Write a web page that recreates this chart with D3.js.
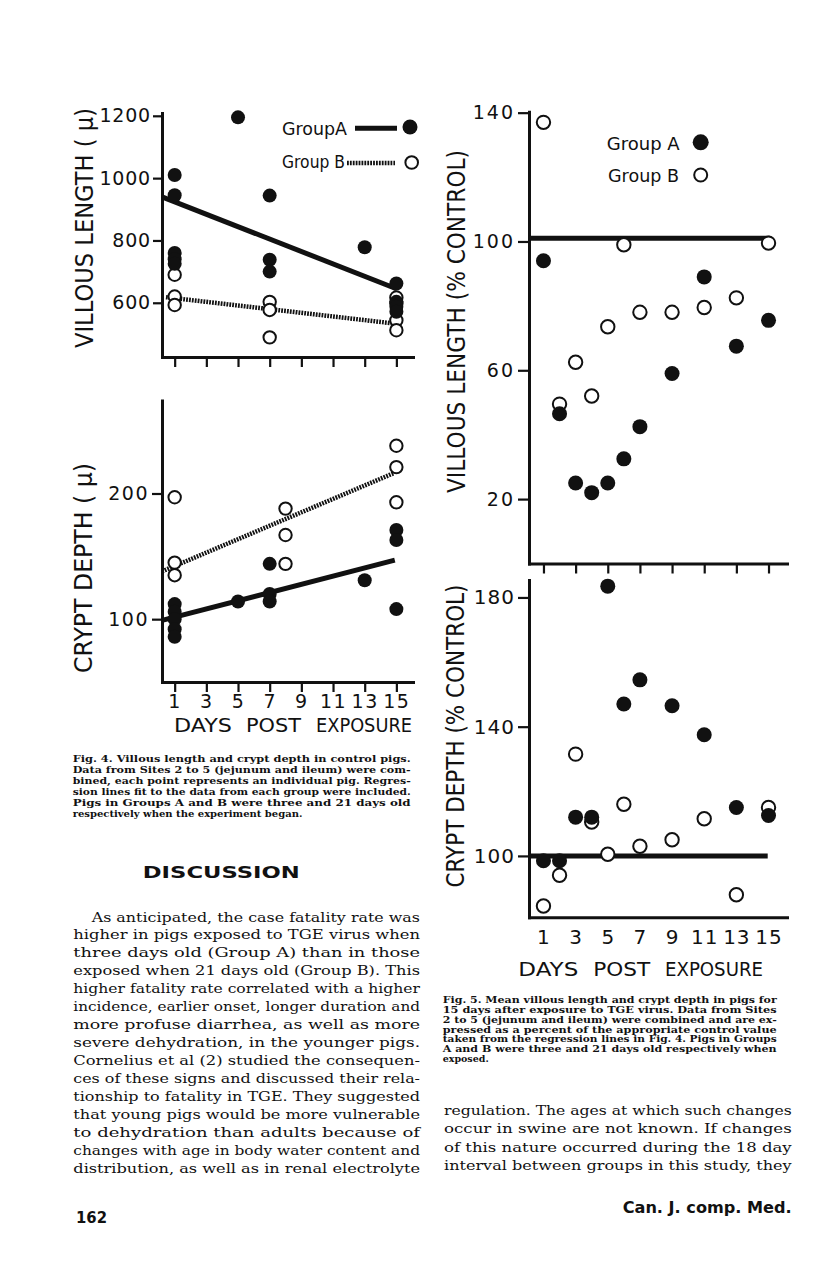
<!DOCTYPE html>
<html>
<head>
<meta charset="utf-8">
<script src="https://cdn.jsdelivr.net/npm/d3@7"></script>
<style>
  body { margin: 0; background: #fff; }
  svg text { fill: #111; }
</style>
</head>
<body>
<div id="page"></div>
<script>
// ---- data ----
var dayTicks = [1, 3, 5, 7, 9, 11, 13, 15];

// Fig 4, villous length (microns), one point per pig
var lenA_days = [1, 1, 1, 1, 1, 5, 7, 7, 7, 13, 15, 15, 15, 15];
var lenA_vals = [1010, 945, 760, 740, 725, 1195, 944, 738, 700, 778, 662, 603, 587, 571];
var lenB_days = [1, 1, 1, 7, 7, 7, 15, 15, 15, 15];
var lenB_vals = [690, 620, 593, 603, 577, 489, 617, 598, 544, 512];
var lenTicks = [600, 800, 1000, 1200];

// Fig 4, crypt depth (microns)
var depA_days = [1, 1, 1, 1, 1, 5, 7, 7, 7, 13, 15, 15, 15];
var depA_vals = [112, 106, 100, 92, 86, 114, 144, 120, 114, 131, 108, 171, 163];
var depB_days = [1, 1, 1, 8, 8, 8, 15, 15, 15];
var depB_vals = [197, 145, 135, 188, 167, 144, 238, 221, 193];
var depTicks = [100, 200];

// regression line end points [day, value]
var regLenA = [[0.2, 940], [15, 645]];
var regLenB = [[0.45, 618], [15.1, 532]];
var regDepA = [[0.2, 99], [14.9, 147]];
var regDepB = [[0.2, 138], [14.8, 216]];

// Fig 5, percent of control
var days5 = [1, 2, 3, 4, 5, 6, 7, 9, 11, 13, 15];
var vilA = [94, 46.5, 25, 22, 25, 32.5, 42.5, 59, 89, 67.5, 75.5];
var vilB = [137, 49.5, 62.5, 52, 73.5, 99, 78, 78, 79.5, 82.5, 99.5];
var crpA = [98.5, 98.5, 112, 112, 183.5, 147, 154.5, 146.5, 137.5, 115, 112.5];
var crpB = [84.5, 94, 131.5, 110.5, 100.5, 116, 103, 105, 111.5, 88, 115];
var vilTicks = [20, 60, 100, 140];
var crpTicks = [100, 140, 180];
var controlVil = [[0.1, 101], [15.1, 101]];
var controlCrp = [[0.1, 100], [14.95, 100]];

// ---- text ----
var cap4 = [
  "Fig. 4. Villous length and crypt depth in control pigs.",
  "Data from Sites 2 to 5 (jejunum and ileum) were com-",
  "bined, each point represents an individual pig. Regres-",
  "sion lines fit to the data from each group were included.",
  "Pigs in Groups A and B were three and 21 days old",
  "respectively when the experiment began."
];
var cap5 = [
  "Fig. 5. Mean villous length and crypt depth in pigs for",
  "15 days after exposure to TGE virus. Data from Sites",
  "2 to 5 (jejunum and ileum) were combined and are ex-",
  "pressed as a percent of the appropriate control value",
  "taken from the regression lines in Fig. 4. Pigs in Groups",
  "A and B were three and 21 days old respectively when",
  "exposed."
];
var bodyLeft = [
  "As anticipated, the case fatality rate was",
  "higher in pigs exposed to TGE virus when",
  "three days old (Group A) than in those",
  "exposed when 21 days old (Group B). This",
  "higher fatality rate correlated with a higher",
  "incidence, earlier onset, longer duration and",
  "more profuse diarrhea, as well as more",
  "severe dehydration, in the younger pigs.",
  "Cornelius et al (2) studied the consequen-",
  "ces of these signs and discussed their rela-",
  "tionship to fatality in TGE. They suggested",
  "that young pigs would be more vulnerable",
  "to dehydration than adults because of",
  "changes with age in body water content and",
  "distribution, as well as in renal electrolyte"
];
var bodyRight = [
  "regulation. The ages at which such changes",
  "occur in swine are not known. If changes",
  "of this nature occurred during the 18 day",
  "interval between groups in this study, they"
];
var xTitleWords = ["DAYS", "POST", "EXPOSURE"];

var SANS = "'DejaVu Sans', sans-serif",
    SERIF = "'DejaVu Serif', serif",
    INK = "#111",
    DOTS = "1.8,1.1";

var svg = d3.select('#page')
    .append('svg')
    .attr('width', 816)
    .attr('height', 1271);

svg.append('rect').attr('width', 816).attr('height', 1271).attr('fill', '#fff');

var line = d3.line();

function panel(cfg) {
    var x = cfg.x, y = cfg.y;
    var g = svg.append('g');

    var yAxis = d3.axisLeft(y)
        .tickValues(cfg.yTicks)
        .tickSize(cfg.yTickSize)
        .tickPadding(cfg.yPad)
        .tickSizeOuter(0)
        .tickFormat(d3.format('d'));
    var ya = g.append('g')
        .attr('transform', 'translate(' + x.range()[0] + ',0)')
        .call(yAxis);

    var xAxis = d3.axisBottom(x)
        .tickValues(dayTicks)
        .tickSize(cfg.xTickSize)
        .tickPadding(cfg.xPad)
        .tickSizeOuter(0)
        .tickFormat(cfg.xLabels ? d3.format('d') : function() { return ''; });
    var xa = g.append('g')
        .attr('transform', 'translate(0,' + y.range()[0] + ')')
        .call(xAxis);

    [ya, xa].forEach(function(a) {
        a.select('.domain').attr('stroke', INK).attr('stroke-width', 3).attr('stroke-linecap', 'square');
        a.selectAll('.tick line').attr('stroke', INK).attr('stroke-width', 2.2);
        a.selectAll('.tick text')
            .attr('fill', INK)
            .style('font-family', SANS)
            .style('font-size', cfg.tickFont + 'px')
            .style('letter-spacing', cfg.tickSpacing + 'px');
    });

    var lx = function(d) { return x(d[0]); },
        ly = function(d) { return y(d[1]); };
    line.x(lx).y(ly);

    (cfg.lines || []).forEach(function(l) {
        g.append('path')
            .attr('d', line(l.pts))
            .attr('fill', 'none')
            .attr('stroke', INK)
            .attr('stroke-width', l.dotted ? 4.5 : 5)
            .attr('stroke-dasharray', l.dotted ? DOTS : null);
    });

    g.selectAll('circle.open')
        .data(d3.zip(cfg.bDays, cfg.bVals))
        .enter().append('circle')
        .attr('class', 'open')
        .attr('cx', lx).attr('cy', ly)
        .attr('r', cfg.r - 0.8)
        .attr('fill', '#fff')
        .attr('stroke', INK)
        .attr('stroke-width', 2);

    g.selectAll('circle.filled')
        .data(d3.zip(cfg.aDays, cfg.aVals))
        .enter().append('circle')
        .attr('class', 'filled')
        .attr('cx', lx).attr('cy', ly)
        .attr('r', cfg.r)
        .attr('fill', INK);

    return g;
}

function vtitle(txt, cx, cy, len, size) {
    svg.append('text')
        .attr('transform', 'translate(' + cx + ',' + cy + ') rotate(-90)')
        .attr('text-anchor', 'middle')
        .attr('dominant-baseline', 'central')
        .attr('textLength', len)
        .attr('lengthAdjust', 'spacingAndGlyphs')
        .style('font-family', SANS)
        .style('font-size', size + 'px')
        .text(txt);
}

// x title as three spaced words: starts and widths measured from the page
function xtitle(starts, widths, base, size) {
    xTitleWords.forEach(function(w, i) {
        svg.append('text')
            .attr('x', starts[i]).attr('y', base)
            .attr('textLength', widths[i]).attr('lengthAdjust', 'spacingAndGlyphs')
            .style('font-family', SANS).style('font-size', size + 'px')
            .text(w);
    });
}

function block(lines, x0, width, base, lh, size, font, weight, indent, lastJust) {
    lines.forEach(function(t, i) {
        var ind = (i === 0 && indent) ? indent : 0;
        var el = svg.append('text')
            .attr('x', x0 + ind)
            .attr('y', base + i * lh)
            .style('font-family', font)
            .style('font-size', size + 'px')
            .style('font-weight', weight)
            .text(t);
        if (i < lines.length - 1 || lastJust) {
            el.attr('textLength', width - ind).attr('lengthAdjust', 'spacingAndGlyphs');
        }
    });
}

// ---- Fig 4 ----
var x4 = d3.scaleLinear().domain([0.2, 16.05]).range([162, 413]);
var yLen = d3.scaleLinear().domain([426, 1209]).range([357, 113]);
var yDep = d3.scaleLinear().domain([50, 274]).range([682, 400.5]);

panel({
    x: x4, y: yLen, yTicks: lenTicks, yTickSize: 9, yPad: 2,
    xTickSize: 10, xPad: 3, xLabels: false, tickFont: 19, tickSpacing: 0.8, r: 7,
    aDays: lenA_days, aVals: lenA_vals, bDays: lenB_days, bVals: lenB_vals,
    lines: [{pts: regLenA}, {pts: regLenB, dotted: true}]
});
panel({
    x: x4, y: yDep, yTicks: depTicks, yTickSize: 10, yPad: 3,
    xTickSize: 10, xPad: 3, xLabels: true, tickFont: 19, tickSpacing: 1.5, r: 7,
    aDays: depA_days, aVals: depA_vals, bDays: depB_days, bVals: depB_vals,
    lines: [{pts: regDepA}, {pts: regDepB, dotted: true}]
});

vtitle('VILLOUS LENGTH ( \u03bc)', 85, 228, 240, 24);
vtitle('CRYPT DEPTH ( \u03bc)', 83.5, 568, 210, 24);
xtitle([174, 246, 316], [58, 55, 96], 731.5, 19);

// legend fig 4
var leg4 = svg.append('g').style('font-family', SANS).style('font-size', '18px');
leg4.append('text').attr('x', 282).attr('y', 135).attr('textLength', 65).attr('lengthAdjust', 'spacingAndGlyphs').text('GroupA');
leg4.append('line').attr('x1', 355).attr('x2', 397).attr('y1', 128.3).attr('y2', 128.3).attr('stroke', INK).attr('stroke-width', 5);
leg4.append('circle').attr('cx', 410).attr('cy', 127).attr('r', 7.5).attr('fill', INK);
leg4.append('text').attr('x', 282).attr('y', 168).attr('textLength', 63).attr('lengthAdjust', 'spacingAndGlyphs').text('Group B');
leg4.append('line').attr('x1', 347).attr('x2', 395).attr('y1', 163).attr('y2', 163).attr('stroke', INK).attr('stroke-width', 4.5).attr('stroke-dasharray', DOTS);
leg4.append('circle').attr('cx', 411.7).attr('cy', 162.5).attr('r', 6.3).attr('fill', '#fff').attr('stroke', INK).attr('stroke-width', 2);

// ---- Fig 5 ----
var x5 = d3.scaleLinear().domain([0.1, 16.15]).range([529, 787]);
var yVil = d3.scaleLinear().domain([0, 140.3]).range([563.5, 111.7]);
var yCrp = d3.scaleLinear().domain([81, 185.4]).range([917.3, 580]);

panel({
    x: x5, y: yVil, yTicks: vilTicks, yTickSize: 11, yPad: 3,
    xTickSize: 10, xPad: 3, xLabels: false, tickFont: 19, tickSpacing: 2, r: 7.5,
    aDays: days5, aVals: vilA, bDays: days5, bVals: vilB,
    lines: [{pts: controlVil}]
});
panel({
    x: x5, y: yCrp, yTicks: crpTicks, yTickSize: 11, yPad: 3,
    xTickSize: 0, xPad: 13, xLabels: true, tickFont: 20, tickSpacing: 1, r: 7.5,
    aDays: days5, aVals: crpA, bDays: days5, bVals: crpB,
    lines: [{pts: controlCrp}]
});

vtitle('VILLOUS LENGTH (% CONTROL)', 456.5, 321.5, 343, 24);
vtitle('CRYPT DEPTH (% CONTROL)', 455.5, 736, 303, 24);
xtitle([518.3, 593.3, 665], [60, 57, 98], 975.5, 19);

var leg5 = svg.append('g').style('font-family', SANS).style('font-size', '18px');
leg5.append('text').attr('x', 606.7).attr('y', 150).attr('textLength', 73).attr('lengthAdjust', 'spacingAndGlyphs').text('Group A');
leg5.append('circle').attr('cx', 700.7).attr('cy', 142.3).attr('r', 8).attr('fill', INK);
leg5.append('text').attr('x', 608).attr('y', 182).attr('textLength', 71).attr('lengthAdjust', 'spacingAndGlyphs').text('Group B');
leg5.append('circle').attr('cx', 700.7).attr('cy', 175).attr('r', 6.5).attr('fill', '#fff').attr('stroke', INK).attr('stroke-width', 2);

// ---- captions and text ----
block(cap4, 72.7, 338, 762, 11, 10, SERIF, 'bold', 0, false);
block(cap5, 442.7, 334, 1003.3, 9.75, 9.5, SERIF, 'bold', 0, false);

svg.append('text').attr('x', 221.3).attr('y', 878.3).attr('text-anchor', 'middle')
    .attr('textLength', 157).attr('lengthAdjust', 'spacingAndGlyphs')
    .style('font-family', SANS).style('font-size', '16px').style('font-weight', 'bold')
    .text('DISCUSSION');

block(bodyLeft, 73.3, 346.7, 921.5, 17.98, 13.5, SERIF, 'normal', 18.4, true);
block(bodyRight, 444, 347.7, 1115, 18.3, 13.5, SERIF, 'normal', 0, true);

svg.append('text').attr('x', 76).attr('y', 1223).attr('textLength', 31).attr('lengthAdjust', 'spacingAndGlyphs')
    .style('font-family', SANS).style('font-size', '16px').style('font-weight', 'bold').text('162');
svg.append('text').attr('x', 622.7).attr('y', 1213.3).attr('textLength', 169).attr('lengthAdjust', 'spacingAndGlyphs')
    .style('font-family', SANS).style('font-size', '16px').style('font-weight', 'bold').text('Can. J. comp. Med.');
</script>
</body>
</html>
